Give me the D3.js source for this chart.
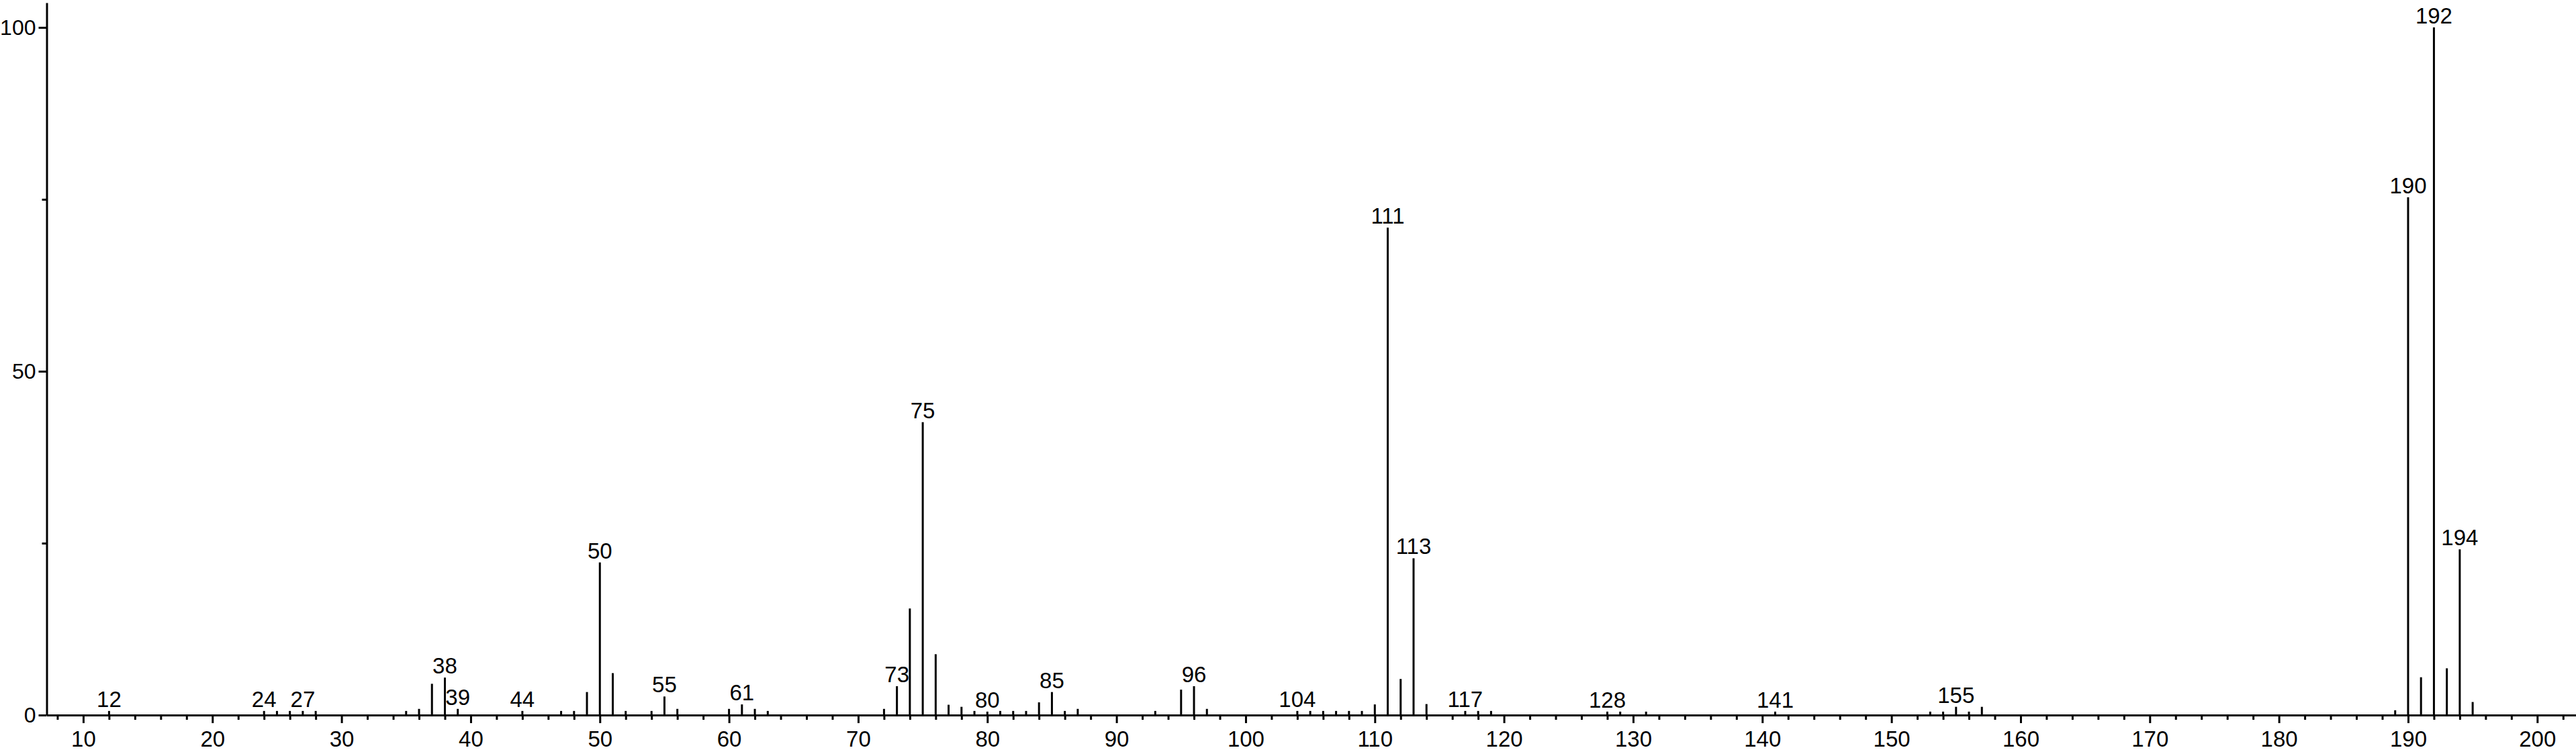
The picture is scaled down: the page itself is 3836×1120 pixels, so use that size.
<!DOCTYPE html>
<html>
<head>
<meta charset="utf-8">
<script src="https://cdn.jsdelivr.net/npm/d3@7"></script>
<style>
  html, body { margin: 0; padding: 0; background: #fff; }
  svg { display: block; }
  text { font-family: "Liberation Sans", Arial, sans-serif; fill: #000; }
</style>
</head>
<body>
<div id="chart"></div>
<script>
// m/z values and relative intensities (%)
const masses = [12, 24, 25, 26, 27, 28, 35, 36, 37, 38, 39, 44, 47, 48, 49, 50, 51, 52, 54, 55, 56,
  60, 61, 62, 63, 72, 73, 74, 75, 76, 77, 78, 79, 80, 81, 82, 83, 84, 85, 86, 87, 93, 95, 96, 97,
  104, 105, 106, 107, 108, 109, 110, 111, 112, 113, 114, 117, 118, 119, 128, 129, 131, 141,
  153, 154, 155, 156, 157, 189, 190, 191, 192, 193, 194, 195];
const intensities = [0.6, 0.6, 0.6, 0.6, 0.6, 0.6, 0.6, 0.9, 4.55, 5.45, 0.9, 0.6, 0.6, 0.6, 3.35, 22.2, 6.1, 0.6, 0.6, 2.7, 0.9,
  0.9, 1.55, 0.9, 0.6, 0.9, 4.2, 15.5, 42.6, 8.85, 1.5, 1.2, 0.6, 0.5, 0.6, 0.6, 0.6, 1.85, 3.35, 0.6, 0.9, 0.6, 3.7, 4.2, 0.9,
  0.6, 0.6, 0.6, 0.6, 0.6, 0.6, 1.55, 70.9, 5.25, 22.8, 1.6, 0.6, 0.6, 0.6, 0.5, 0.5, 0.5, 0.5,
  0.5, 0.5, 1.2, 0.5, 1.2, 0.7, 75.3, 5.5, 100, 6.8, 24.1, 1.9];
// peaks that carry an m/z label
const labelled = [12, 24, 27, 38, 39, 44, 50, 55, 61, 73, 75, 80, 85, 96, 104, 111, 113, 117, 128, 141, 155, 190, 192, 194];

const xMajor = d3.range(10, 201, 10);
const xMinor = d3.range(8, 203, 2).filter(v => v % 10 !== 0);
const yMajor = [0, 50, 100];
const yMinor = [25, 75];

const width = 3836, height = 1120;
const svg = d3.select("#chart").append("svg")
  .attr("width", width)
  .attr("height", height);

const x = d3.scaleLinear().domain([7.17, 203]).range([69.5, 3836]);
const y = d3.scaleLinear().domain([0, 103.6]).range([1065, 4]);

const peaks = masses.map((m, i) => ({ m: m, v: intensities[i] }));

// x axis: minor ticks first, then major ticks with labels
svg.append("g")
  .attr("transform", `translate(0,${y(0)})`)
  .call(d3.axisBottom(x).tickValues(xMinor).tickSize(7).tickSizeOuter(0).tickFormat(""))
  .call(g => g.select(".domain").remove())
  .call(g => g.selectAll("line").attr("stroke-width", 3));

svg.append("g")
  .attr("transform", `translate(0,${y(0)})`)
  .call(d3.axisBottom(x).tickValues(xMajor).tickSize(12).tickPadding(12).tickSizeOuter(0))
  .call(g => g.select(".domain").attr("stroke-width", 3))
  .call(g => g.selectAll("line").attr("stroke-width", 3))
  .call(g => g.selectAll("text").attr("font-size", 33).attr("font-family", "Liberation Sans, Arial, sans-serif"));

// y axis
svg.append("g")
  .attr("transform", `translate(${x.range()[0]},0)`)
  .call(d3.axisLeft(y).tickValues(yMinor).tickSize(7).tickSizeOuter(0).tickFormat(""))
  .call(g => g.select(".domain").remove())
  .call(g => g.selectAll("line").attr("stroke-width", 3));

svg.append("g")
  .attr("transform", `translate(${x.range()[0]},0)`)
  .call(d3.axisLeft(y).tickValues(yMajor).tickSize(12).tickPadding(4).tickSizeOuter(0))
  .call(g => g.select(".domain").attr("stroke-width", 3))
  .call(g => g.selectAll("line").attr("stroke-width", 3))
  .call(g => g.selectAll("text").attr("font-size", 32).attr("font-family", "Liberation Sans, Arial, sans-serif"));

// peak sticks
svg.append("g").selectAll("line")
  .data(peaks)
  .enter()
  .append("line")
  .attr("x1", d => x(d.m))
  .attr("x2", d => x(d.m))
  .attr("y1", y(0))
  .attr("y2", d => y(d.v))
  .attr("stroke", "#000")
  .attr("stroke-width", 3);

// peak labels
svg.append("g").selectAll("text")
  .data(peaks.filter(d => labelled.includes(d.m)))
  .enter()
  .append("text")
  .attr("x", d => x(d.m))
  .attr("y", d => y(d.v) - 6)
  .attr("text-anchor", "middle")
  .attr("font-size", 33)
  .text(d => d.m);
</script>
</body>
</html>
